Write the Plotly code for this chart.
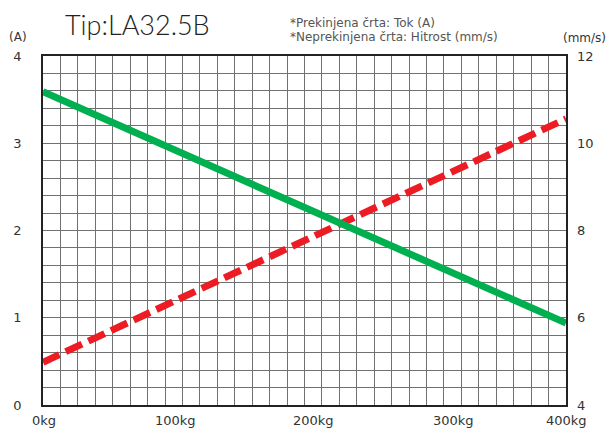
import plotly.graph_objects as go

# ---- data ----
load_kg = [0, 400]
current_A = [0.49, 3.28]      # dashed line (Tok)
speed_mms = [11.18, 5.88]     # solid line (Hitrost)

x_tick_vals = [0, 100, 200, 300, 400]
x_tick_text = ["0kg", "100kg", "200kg", "300kg", "400kg"]
x_tick_shift = [1, 2, 9, 18, 0]
y_left_ticks = [0, 1, 2, 3, 4]
y_right_ticks = [4, 6, 8, 10, 12]

title_text = "Tip:LA32.5B"
note1 = "*Prekinjena črta: Tok (A)"
note2 = "*Neprekinjena črta: Hitrost (mm/s)"

GRID = "#707070"
TXT = "#333333"
FONT = "DejaVu Sans"

fig = go.Figure()
fig.add_trace(go.Scatter(x=load_kg, y=speed_mms, yaxis="y2", mode="lines",
                         line=dict(color="rgb(0,176,80)", width=7),
                         showlegend=False, hoverinfo="skip"))
fig.add_trace(go.Scatter(x=load_kg, y=current_A, yaxis="y", mode="lines",
                         line=dict(color="rgb(237,28,36)", width=7, dash="18px,7px"),
                         showlegend=False, hoverinfo="skip"))

fig.update_layout(
    width=611, height=430,
    margin=dict(l=43, r=45, t=56, b=25),
    paper_bgcolor="white", plot_bgcolor="white",
    font=dict(family=FONT, color=TXT, size=13),
    xaxis=dict(range=[0, 400], tickvals=x_tick_vals, showticklabels=False,
               showgrid=False, zeroline=False, ticks="",
               showline=True, linecolor="#222", linewidth=1.5, mirror=True,
               minor=dict(tick0=0, dtick=400 / 30, showgrid=True,
                          gridcolor=GRID, gridwidth=1)),
    yaxis=dict(range=[0, 4], tickvals=y_left_ticks, showgrid=False,
               zeroline=False, ticks="", ticklabelstandoff=17,
               tickfont=dict(size=13, color=TXT),
               showline=True, linecolor="#222", linewidth=1.5, mirror=True,
               minor=dict(tick0=0, dtick=0.2, showgrid=True,
                          gridcolor=GRID, gridwidth=1)),
    yaxis2=dict(range=[4, 12], tickvals=y_right_ticks, overlaying="y",
                side="right", showgrid=False, zeroline=False, ticks="",
                ticklabelstandoff=10, tickfont=dict(size=13, color=TXT)),
)

for v, t, s in zip(x_tick_vals, x_tick_text, x_tick_shift):
    fig.add_annotation(x=v, y=0, xref="x", yref="paper", text=t, showarrow=False,
                       xanchor="center", yanchor="middle", yshift=-15, xshift=s,
                       font=dict(size=13, color=TXT))


def px_x(px):
    return (px - 43) / (566 - 43)


def px_y(py):
    return (405 - py) / (405 - 56)


fig.add_annotation(x=px_x(63), y=px_y(25), xref="paper", yref="paper",
                   text=title_text, showarrow=False, xanchor="left", yanchor="middle",
                   font=dict(size=27, color="#222", family="Lato", weight=300))
fig.add_annotation(x=px_x(288), y=px_y(23), xref="paper", yref="paper",
                   text=note1, showarrow=False, xanchor="left", yanchor="middle",
                   font=dict(size=12, color="#555"))
fig.add_annotation(x=px_x(288), y=px_y(37), xref="paper", yref="paper",
                   text=note2, showarrow=False, xanchor="left", yanchor="middle",
                   font=dict(size=12, color="#555"))
fig.add_annotation(x=px_x(18), y=px_y(37), xref="paper", yref="paper",
                   text="(A)", showarrow=False, xanchor="center", yanchor="middle",
                   font=dict(size=12, color=TXT))
fig.add_annotation(x=px_x(584), y=px_y(38), xref="paper", yref="paper",
                   text="(mm/s)", showarrow=False, xanchor="center", yanchor="middle",
                   font=dict(size=12, color=TXT))

fig.write_html("out.html", config={"displayModeBar": False},
               post_script="document.body.style.margin='0';document.body.style.overflow='hidden';")
